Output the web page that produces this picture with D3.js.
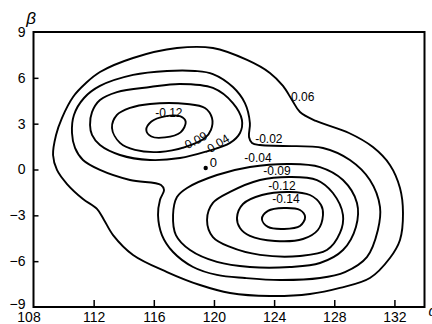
<!DOCTYPE html>
<html>
<head>
<meta charset="utf-8">
<script src="https://cdn.jsdelivr.net/npm/d3@7"></script>
<style>
  body { margin: 0; background: #fff; }
  text { font-family: "Liberation Sans", Arial, sans-serif; fill: #000; }
</style>
</head>
<body>
<div id="chart"></div>
<script>
// tick values of the two axes
const xTicks = [108, 112, 116, 120, 124, 128, 132];
const yTicks = [-9, -6, -3, 0, 3, 6, 9];

// contour lines, [alpha, beta] pairs, each one closed
const c006 = [[109.3, 0.95], [109.5, 2.26], [109.89, 3.37], [110.63, 4.75], [111.49, 5.66], [112.42, 6.38],
  [114.62, 7.3], [117.54, 7.95], [119.93, 7.95], [122.2, 7.17], [123.72, 6.32], [124.59, 5.47], [125.19, 4.55],
  [125.72, 3.76], [126.78, 3.18], [128.98, 2.39], [130.57, 1.47], [131.7, 0.3], [132.37, -1.21], [132.57, -2.85],
  [132.37, -4.61], [131.7, -5.79], [130.37, -7.1], [128.38, -7.75], [126.38, -8.15], [123.72, -8.28],
  [121.07, -8.08], [119.07, -7.56], [116.88, -6.71], [114.62, -5.59], [113.29, -4.29], [112.69, -3.3],
  [112.22, -2.58], [111.29, -1.93], [110.23, -0.95], [109.56, -0.03]];
const c002 = [[110.56, 2.39], [110.69, 3.57], [111.36, 4.68], [112.42, 5.47], [114.62, 6.19], [116.88, 6.45],
  [118.74, 6.45], [119.93, 6.25], [121.26, 5.4], [122.06, 4.35], [122.39, 3.04], [122.33, 2.13], [122.53, 1.74],
  [123.06, 1.6], [124.59, 1.54], [127.25, 1.41], [129.04, 0.62], [130.37, -0.69], [131.04, -2.45], [130.9, -3.96],
  [130.17, -5.73], [128.71, -6.71], [127.05, -7.1], [124.39, -7.23], [122.06, -7.1], [120.2, -6.9],
  [118.61, -6.38], [117.28, -5.4], [116.54, -4.29], [116.28, -2.98], [116.41, -1.99], [116.68, -1.34],
  [116.48, -1.01], [114.42, -0.69], [112.42, -0.03], [111.29, 0.62], [110.76, 1.41]];
const c004Upper = [[111.76, 2.91], [111.89, 3.76], [112.42, 4.55], [113.55, 5.07], [115.75, 5.4], [117.74, 5.6],
  [119.93, 5.34], [121.26, 4.35], [121.86, 3.24], [121.73, 2.39], [121.07, 1.74], [119.4, 1.15], [117.74, 0.75],
  [115.75, 0.62], [113.75, 0.95], [112.42, 1.6], [111.89, 2.26]];
const c004Lower = [[117.28, -2.98], [117.54, -1.8], [118.21, -1.21], [120.2, -0.36], [122.39, 0.16], [125.05, 0.36],
  [127.05, 0.16], [128.58, -0.69], [129.51, -2.19], [129.44, -3.76], [128.58, -5.27], [127.05, -6.12],
  [125.05, -6.38], [122.39, -6.38], [120.2, -6.05], [118.41, -5.27], [117.47, -4.29]];
const c009Upper = [[113.22, 2.72], [113.55, 3.57], [114.42, 4.03], [115.75, 4.29], [118.21, 4.29], [119.4, 4.03],
  [119.87, 3.37], [119.8, 2.59], [119.4, 2.06], [118.07, 1.47], [116.41, 1.15], [114.75, 1.28], [113.75, 1.74]];
const c009Lower = [[119.54, -3.3], [119.93, -2.19], [121.07, -1.47], [123.06, -0.69], [125.05, -0.49],
  [126.85, -0.69], [127.91, -1.54], [128.58, -2.98], [128.38, -4.15], [127.51, -5.27], [125.72, -5.66],
  [123.06, -5.59], [121.07, -5.07], [119.93, -4.42]];
const c012Upper = [[115.5, 2.59], [115.84, 3.14], [116.74, 3.48], [117.78, 3.47], [118.12, 3.11], [117.78, 2.43],
  [116.74, 2.1], [115.84, 2.16]];
const c012Lower = [[121.53, -3.17], [121.93, -2.26], [123.19, -1.67], [125.05, -1.47], [126.38, -1.67],
  [127.12, -2.32], [127.25, -2.98], [126.91, -3.96], [125.92, -4.55], [124.06, -4.68], [122.39, -4.35],
  [121.73, -3.83]];
const c014 = [[123.19, -3.24], [123.59, -2.71], [124.66, -2.52], [125.72, -2.65], [126.06, -3.11], [125.72, -3.7],
  [124.66, -3.89], [123.59, -3.76]];

const contourLines = [c006, c002, c004Upper, c004Lower, c009Upper, c009Lower, c012Upper, c012Lower, c014];

// level labels and where they sit
const labelText = ["-0.12", "-0.09", "-0.04", "0.06", "-0.02", "-0.04", "-0.09", "-0.12", "-0.14"];
const labelAt = [[117.0, 3.68], [118.68, 1.86], [120.17, 1.64], [125.9, 4.78], [123.65, 1.98], [122.93, 0.74],
  [124.19, -0.06], [124.52, -1.04], [124.79, -1.95]];
const labelTilt = [0, -28, -32, 0, 0, 0, 0, 0, 0];

// marked point
const markPoint = [119.45, 0.1];
const markText = "0";

const width = 432, height = 324;
const margin = { top: 32, right: 7.5, bottom: 17, left: 33.5 };

const x = d3.scaleLinear().domain([108, 134]).range([margin.left, width - margin.right]);
const y = d3.scaleLinear().domain([-9, 9]).range([height - margin.bottom, margin.top]);

const svg = d3.select("#chart").append("svg")
  .attr("width", width)
  .attr("height", height);

// contours
const line = d3.line()
  .x(d => x(d[0]))
  .y(d => y(d[1]))
  .curve(d3.curveCatmullRomClosed.alpha(0.5));

svg.append("g")
  .selectAll("path")
  .data(contourLines)
  .join("path")
  .attr("d", line)
  .attr("fill", "none")
  .attr("stroke", "#000")
  .attr("stroke-width", 1.9);

// labels on the lines
svg.append("g")
  .selectAll("text")
  .data(labelText)
  .join("text")
  .attr("transform", (d, i) => "translate(" + x(labelAt[i][0]) + "," + y(labelAt[i][1]) + ") rotate(" + labelTilt[i] + ")")
  .attr("text-anchor", "middle")
  .attr("dy", "0.35em")
  .style("font-size", "12px")
  .text(d => d);

svg.append("circle")
  .attr("cx", x(markPoint[0]))
  .attr("cy", y(markPoint[1]))
  .attr("r", 2.2)
  .attr("fill", "#000");
svg.append("text")
  .attr("x", x(markPoint[0]) + 4)
  .attr("y", y(markPoint[1]) - 1)
  .style("font-size", "13px")
  .text(markText);

// axes, ticks point inward
const xAxis = d3.axisBottom(x).tickValues(xTicks).tickSizeInner(-7).tickSizeOuter(0).tickPadding(5);
const yAxis = d3.axisLeft(y).tickValues(yTicks).tickSizeInner(-5).tickSizeOuter(0).tickPadding(8);

const gx = svg.append("g")
  .attr("transform", "translate(0," + (height - margin.bottom) + ")")
  .call(xAxis);
const gy = svg.append("g")
  .attr("transform", "translate(" + margin.left + ",0)")
  .call(yAxis);

[gx, gy].forEach(g => {
  g.select(".domain").remove();
  g.selectAll("line").attr("stroke", "#000").attr("stroke-width", 1.5);
  g.selectAll("text").style("font-size", "14px").attr("fill", "#000");
});
// corner labels
gx.selectAll(".tick").filter(d => d === 108).select("line").remove();
gx.selectAll(".tick text").filter(d => d === 108).attr("dx", -5);
gy.selectAll(".tick").filter(d => d === 9 || d === -9).select("line").remove();
gy.selectAll(".tick text").filter(d => d === -9).attr("dy", "0.1em");

// frame
svg.append("rect")
  .attr("x", margin.left)
  .attr("y", margin.top)
  .attr("width", width - margin.left - margin.right)
  .attr("height", height - margin.top - margin.bottom)
  .attr("fill", "none")
  .attr("stroke", "#000")
  .attr("stroke-width", 2);

// axis names
svg.append("text")
  .attr("x", 31)
  .attr("y", 24)
  .attr("text-anchor", "middle")
  .style("font-size", "17px")
  .style("font-style", "italic")
  .text("β");
svg.append("text")
  .attr("x", 428.5)
  .attr("y", 316)
  .style("font-size", "14px")
  .style("font-style", "italic")
  .text("α");
</script>
</body>
</html>
